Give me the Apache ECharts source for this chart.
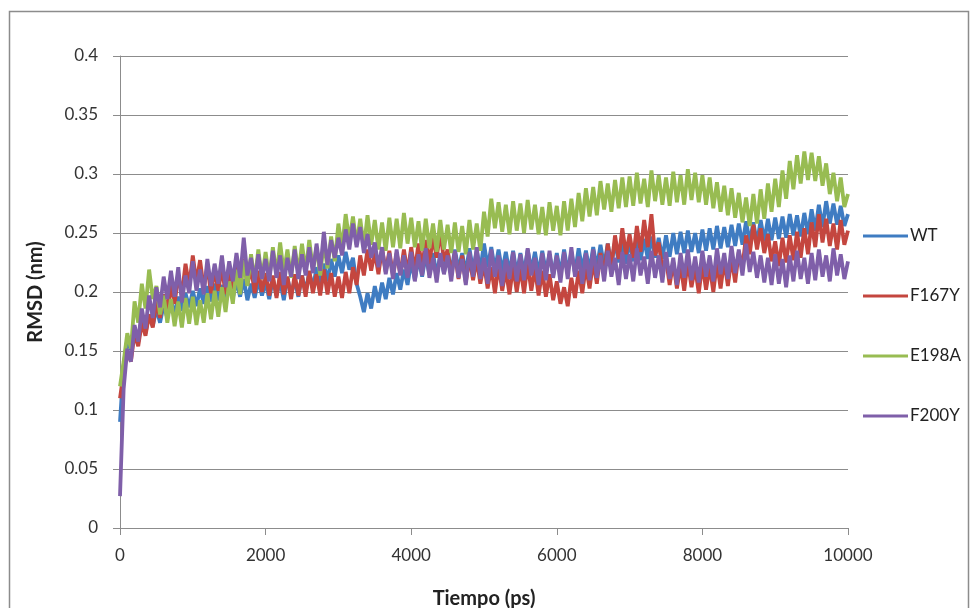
<!DOCTYPE html>
<html>
<head>
<meta charset="utf-8">
<title>RMSD</title>
<script src="https://cdn.jsdelivr.net/npm/echarts@6/dist/echarts.min.js"></script>
<style>
  html, body { margin: 0; padding: 0; background: #fff; }
  #chart { width: 977px; height: 608px; }
</style>
</head>
<body>
<div id="chart"></div>
<script>
const sampleStep = 50;
const seriesNames = ["WT", "F167Y", "E198A", "F200Y"];
const xTicks = [0, 2000, 4000, 6000, 8000, 10000];

const wt = [
  0.09, 0.138, 0.16, 0.151, 0.169, 0.158, 0.176, 0.165, 0.181, 0.171,
  0.186, 0.174, 0.189, 0.178, 0.193, 0.181, 0.196, 0.184, 0.199, 0.187,
  0.201, 0.188, 0.203, 0.19, 0.205, 0.192, 0.207, 0.193, 0.206, 0.194,
  0.208, 0.195, 0.209, 0.196, 0.211, 0.193, 0.207, 0.195, 0.21, 0.197,
  0.208, 0.194, 0.211, 0.197, 0.209, 0.193, 0.212, 0.198, 0.21, 0.196,
  0.214, 0.2, 0.217, 0.203, 0.221, 0.206, 0.224, 0.209, 0.228, 0.213,
  0.231, 0.216, 0.234, 0.219, 0.229, 0.207, 0.196, 0.183, 0.199, 0.186,
  0.205, 0.191, 0.208, 0.194, 0.212, 0.198, 0.216, 0.202, 0.219, 0.206,
  0.226, 0.21, 0.229, 0.213, 0.231, 0.215, 0.233, 0.214, 0.232, 0.216,
  0.234, 0.217, 0.236, 0.219, 0.233, 0.216, 0.237, 0.218, 0.235, 0.219,
  0.241, 0.221, 0.238, 0.219, 0.236, 0.217, 0.234, 0.216, 0.235, 0.215,
  0.233, 0.216, 0.236, 0.218, 0.234, 0.215, 0.235, 0.217, 0.232, 0.214,
  0.233, 0.215, 0.236, 0.217, 0.234, 0.216, 0.237, 0.219, 0.235, 0.218,
  0.238, 0.22, 0.24, 0.222, 0.241, 0.223, 0.243, 0.225, 0.242, 0.224,
  0.244, 0.226, 0.246, 0.227, 0.245, 0.228, 0.247, 0.229, 0.246, 0.228,
  0.248, 0.23, 0.25, 0.232, 0.251, 0.233, 0.252, 0.234, 0.25, 0.233,
  0.253, 0.235, 0.254, 0.236, 0.256, 0.237, 0.255, 0.238, 0.257, 0.239,
  0.258, 0.24, 0.26, 0.242, 0.259, 0.241, 0.261, 0.243, 0.262, 0.244,
  0.263, 0.245, 0.264, 0.246, 0.266, 0.248, 0.265, 0.247, 0.267, 0.249,
  0.27, 0.252, 0.274, 0.255, 0.277, 0.258, 0.275, 0.257, 0.273, 0.256,
  0.266
];

const f167y = [
  0.11, 0.132, 0.149, 0.141, 0.165, 0.154, 0.174, 0.163, 0.181, 0.17,
  0.192, 0.178, 0.198, 0.184, 0.206, 0.19, 0.214, 0.198, 0.224, 0.205,
  0.231, 0.208, 0.227, 0.203, 0.222, 0.199, 0.219, 0.201, 0.221, 0.198,
  0.22, 0.202, 0.224, 0.204, 0.228, 0.206, 0.221, 0.199, 0.218, 0.2,
  0.216, 0.197, 0.214, 0.195, 0.217, 0.198, 0.213, 0.194, 0.215, 0.197,
  0.214, 0.196, 0.218, 0.199, 0.215, 0.197, 0.219, 0.198, 0.216, 0.196,
  0.213, 0.195, 0.217, 0.199, 0.221, 0.206, 0.231, 0.214, 0.236, 0.218,
  0.234, 0.215, 0.237, 0.217, 0.235, 0.214, 0.233, 0.215, 0.236, 0.216,
  0.238, 0.218, 0.241, 0.221, 0.244, 0.224, 0.247, 0.229, 0.252, 0.226,
  0.236, 0.214, 0.233, 0.211, 0.231, 0.208, 0.229, 0.21, 0.228, 0.207,
  0.224, 0.203, 0.221, 0.199, 0.223, 0.201, 0.219, 0.198, 0.222, 0.2,
  0.221, 0.199, 0.224, 0.201, 0.22, 0.197, 0.218, 0.196, 0.215, 0.193,
  0.209, 0.19, 0.204, 0.188, 0.212, 0.195, 0.218, 0.199, 0.222, 0.203,
  0.226, 0.207, 0.233, 0.214, 0.241, 0.221, 0.248, 0.228, 0.254, 0.232,
  0.249, 0.229, 0.256, 0.234, 0.261, 0.238, 0.266, 0.231, 0.242, 0.219,
  0.228, 0.206, 0.225, 0.203, 0.223, 0.201, 0.226, 0.204, 0.221, 0.199,
  0.224, 0.202, 0.222, 0.2, 0.225, 0.203, 0.227, 0.205, 0.229, 0.208,
  0.234, 0.221, 0.248, 0.232, 0.257, 0.236, 0.254, 0.233, 0.249, 0.226,
  0.243, 0.222, 0.246, 0.225, 0.248, 0.227, 0.251, 0.229, 0.254, 0.232,
  0.259, 0.238, 0.266, 0.242, 0.262, 0.239, 0.258, 0.236, 0.261, 0.24,
  0.252
];

const e198a = [
  0.12, 0.141, 0.165, 0.152, 0.192, 0.174, 0.207, 0.186, 0.219, 0.194,
  0.205, 0.181, 0.197, 0.174, 0.194, 0.171, 0.192, 0.17, 0.195, 0.173,
  0.196, 0.172, 0.193, 0.174, 0.199, 0.177, 0.201, 0.179, 0.204, 0.183,
  0.209, 0.19, 0.219, 0.198, 0.227, 0.205, 0.232, 0.209, 0.236, 0.211,
  0.234, 0.211, 0.238, 0.214, 0.242, 0.216, 0.236, 0.212, 0.239, 0.215,
  0.241, 0.217, 0.244, 0.219, 0.238, 0.214, 0.243, 0.22, 0.247, 0.226,
  0.258, 0.237, 0.266, 0.243, 0.264, 0.24, 0.262, 0.238, 0.265, 0.24,
  0.261, 0.236, 0.259, 0.235, 0.263, 0.238, 0.262, 0.237, 0.267, 0.241,
  0.263, 0.238, 0.26, 0.235, 0.262, 0.237, 0.258, 0.234, 0.261, 0.236,
  0.257, 0.233, 0.259, 0.234, 0.256, 0.232, 0.261, 0.236, 0.258, 0.235,
  0.268, 0.247, 0.279, 0.254, 0.276, 0.251, 0.274, 0.249, 0.277, 0.252,
  0.275, 0.25, 0.278, 0.253, 0.274, 0.249, 0.272, 0.248, 0.276, 0.252,
  0.273, 0.248, 0.277, 0.252, 0.279, 0.255, 0.284, 0.26, 0.288, 0.264,
  0.289, 0.265, 0.294, 0.27, 0.292, 0.268, 0.295, 0.271, 0.297, 0.272,
  0.298, 0.273, 0.301, 0.275, 0.296, 0.272, 0.303, 0.277, 0.299, 0.274,
  0.297, 0.273, 0.302, 0.276, 0.299, 0.274, 0.304, 0.278, 0.301, 0.276,
  0.299, 0.274, 0.297, 0.271, 0.293, 0.268, 0.29, 0.265, 0.288, 0.263,
  0.284, 0.259, 0.28, 0.256, 0.283, 0.258, 0.287, 0.262, 0.292, 0.268,
  0.296, 0.272, 0.303, 0.279, 0.311, 0.287, 0.316, 0.292, 0.319, 0.295,
  0.318, 0.294, 0.315, 0.29, 0.309, 0.283, 0.301, 0.277, 0.297, 0.272,
  0.283
];

const f200y = [
  0.027, 0.118, 0.152, 0.141, 0.172, 0.158, 0.186, 0.169, 0.197, 0.178,
  0.204, 0.187, 0.213, 0.194, 0.218, 0.196, 0.221, 0.191, 0.214, 0.199,
  0.226, 0.201, 0.219, 0.198, 0.228, 0.205, 0.224, 0.207, 0.231, 0.204,
  0.226, 0.209, 0.233, 0.212, 0.246, 0.214, 0.229, 0.208, 0.232, 0.211,
  0.228, 0.209, 0.235, 0.212, 0.231, 0.206, 0.229, 0.213, 0.236, 0.211,
  0.232, 0.214, 0.238, 0.216, 0.241, 0.218, 0.251, 0.223, 0.244, 0.229,
  0.246, 0.231, 0.253, 0.236, 0.258, 0.238, 0.255, 0.233, 0.249, 0.229,
  0.242, 0.221, 0.238, 0.215, 0.233, 0.211, 0.236, 0.214, 0.231, 0.212,
  0.234, 0.209, 0.232, 0.214, 0.237, 0.212, 0.229, 0.208, 0.233, 0.215,
  0.231, 0.209, 0.235, 0.212, 0.228, 0.206, 0.234, 0.213, 0.238, 0.211,
  0.229, 0.207, 0.236, 0.213, 0.231, 0.205, 0.228, 0.211, 0.234, 0.209,
  0.232, 0.21, 0.237, 0.214, 0.229, 0.206, 0.233, 0.21, 0.235, 0.212,
  0.231, 0.208, 0.234, 0.211, 0.238, 0.213, 0.23, 0.207, 0.233, 0.21,
  0.236, 0.212, 0.231, 0.209, 0.235, 0.213, 0.229, 0.206, 0.234, 0.211,
  0.232, 0.209, 0.237, 0.214, 0.23, 0.207, 0.235, 0.212, 0.231, 0.208,
  0.234, 0.211, 0.229, 0.206, 0.233, 0.212, 0.236, 0.21, 0.23, 0.208,
  0.235, 0.213, 0.231, 0.209, 0.237, 0.215, 0.233, 0.211, 0.239, 0.216,
  0.236, 0.214, 0.241, 0.217, 0.234, 0.212, 0.231, 0.208, 0.229, 0.206,
  0.232, 0.207, 0.228, 0.204, 0.231, 0.209, 0.235, 0.211, 0.229, 0.207,
  0.233, 0.21, 0.236, 0.213, 0.231, 0.209, 0.237, 0.214, 0.232, 0.211,
  0.226
];

const seriesValues = [wt, f167y, e198a, f200y];
const colors = ["#3f7cc2", "#c4463f", "#98bc52", "#7f5fa9"];

const chart = echarts.init(document.getElementById("chart"));
const font = "Lato, 'Open Sans', sans-serif";

const toPairs = (vals) => vals.map((v, i) => [i * sampleStep, v]);

chart.setOption({
  animation: false,
  backgroundColor: "#fff",
  textStyle: { fontFamily: font },
  graphic: [{
    type: "rect",
    shape: { x: 9.5, y: 11.5, width: 959, height: 600 },
    style: { fill: "none", stroke: "#8c8c8c", lineWidth: 1.5 },
    silent: true
  }],
  grid: { left: 120, right: 129, top: 56, bottom: 80, outerBoundsMode: "none", containLabel: false },
  legend: {
    orient: "vertical",
    left: 858,
    top: 220,
    icon: "rect",
    itemWidth: 45,
    itemHeight: 3,
    itemGap: 38,
    textStyle: { fontSize: 17, color: "#222", lineHeight: 22, padding: [0, 0, 0, -3] },
    data: seriesNames
  },
  xAxis: {
    type: "value",
    min: 0,
    max: 10000,
    interval: 2000,
    name: "Tiempo (ps)",
    nameLocation: "middle",
    nameGap: 61,
    nameTextStyle: { fontSize: 20, fontWeight: "bold", color: "#222" },
    axisLine: { show: true, lineStyle: { color: "#8c8c8c", width: 1 } },
    axisTick: { show: true, length: 7, lineStyle: { color: "#8c8c8c" } },
    axisLabel: {
      fontSize: 17, color: "#333", margin: 19,
      formatter: (v) => xTicks.includes(v) ? String(v) : ""
    },
    splitLine: { show: false }
  },
  yAxis: {
    type: "value",
    min: 0,
    max: 0.4,
    interval: 0.05,
    name: "RMSD (nm)",
    nameLocation: "middle",
    nameGap: 74,
    nameRotate: 90,
    nameTextStyle: { fontSize: 20, fontWeight: "bold", color: "#222" },
    axisLine: { show: true, lineStyle: { color: "#8c8c8c", width: 1 } },
    axisTick: { show: true, length: 7, lineStyle: { color: "#8c8c8c" } },
    axisLabel: { fontSize: 17, color: "#333", margin: 22 },
    splitLine: { show: true, lineStyle: { color: "#8c8c8c", width: 1 } }
  },
  series: seriesNames.map((name, k) => ({
    name: name,
    type: "line",
    symbol: "none",
    color: colors[k],
    lineStyle: { width: 3.8, color: colors[k] },
    data: toPairs(seriesValues[k])
  }))
});
</script>
</body>
</html>
